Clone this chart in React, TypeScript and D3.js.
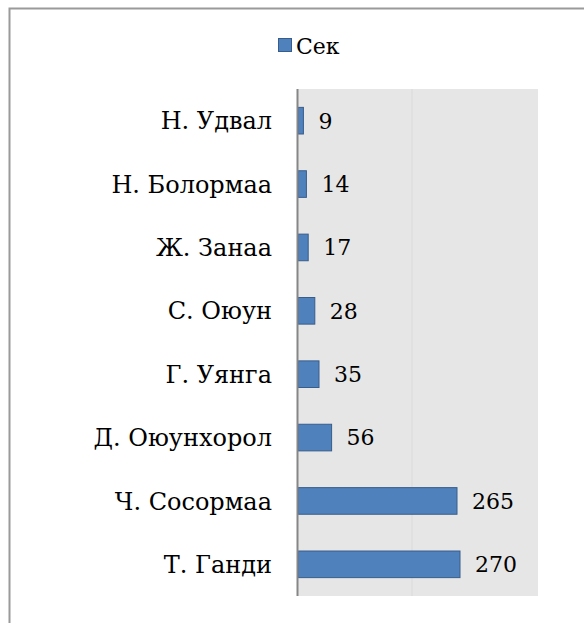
import React from "react";
import * as d3 from "d3";

const categories = ["Н. Удвал", "Н. Болормаа", "Ж. Занаа", "С. Оюун", "Г. Уянга", "Д. Оюунхорол", "Ч. Сосормаа", "Т. Ганди"];
const values = [9, 14, 17, 28, 35, 56, 265, 270];
const seriesName = "Сек";
const xDomain = [0, 400];
const gridValues = [190];

export default function App() {
  const W = 584, H = 623;
  const plot = { left: 298, right: 538, top: 89, bottom: 596 };
  const x = d3.scaleLinear().domain(xDomain).range([plot.left, plot.right]);
  const y = d3.scaleBand().domain(categories).range([plot.top, plot.bottom]).paddingInner(0.58).paddingOuter(0.29);
  const labelStyle = { fontFamily: '"DejaVu Serif", serif', fontSize: "24px" };
  const valueStyle = { fontFamily: '"DejaVu Serif", serif', fontSize: "22px" };
  return (
    <svg width={W} height={H} style={{ position: "absolute", left: 0, top: 0, display: "block" }}>
      <rect x={0} y={0} width={W} height={H} fill="#ffffff" />
      <path d={`M9.5,${H} V8.5 H${W}`} fill="none" stroke="#9a9a9a" strokeWidth={2} />
      <rect x={plot.left} y={plot.top} width={plot.right - plot.left} height={plot.bottom - plot.top} fill="#e6e6e6" />
      {gridValues.map((g) => (
        <line key={g} x1={x(g)} x2={x(g)} y1={plot.top} y2={plot.bottom} stroke="#dadada" strokeWidth={1} />
      ))}
      {categories.map((c, i) => (
        <g key={c}>
          <rect x={x(0)} y={y(c)} width={x(values[i]) - x(0)} height={y.bandwidth()} fill="#4f81bd" stroke="#385d8a" strokeWidth={1} />
          <text x={x(values[i]) + 15} y={(y(c) as number) + y.bandwidth() / 2} dy="0.36em" style={valueStyle} fill="#000">{values[i]}</text>
          <text x={272} y={(y(c) as number) + y.bandwidth() / 2} dy="0.36em" textAnchor="end" style={labelStyle} fill="#000">{c}</text>
        </g>
      ))}
      <line x1={plot.left - 0.5} x2={plot.left - 0.5} y1={plot.top} y2={plot.bottom} stroke="#868686" strokeWidth={2} />
      <rect x={278.5} y={38.5} width={13} height={13} fill="#4f81bd" stroke="#385d8a" strokeWidth={1} />
      <text x={296} y={46} dy="0.36em" style={valueStyle} fill="#000">{seriesName}</text>
    </svg>
  );
}
